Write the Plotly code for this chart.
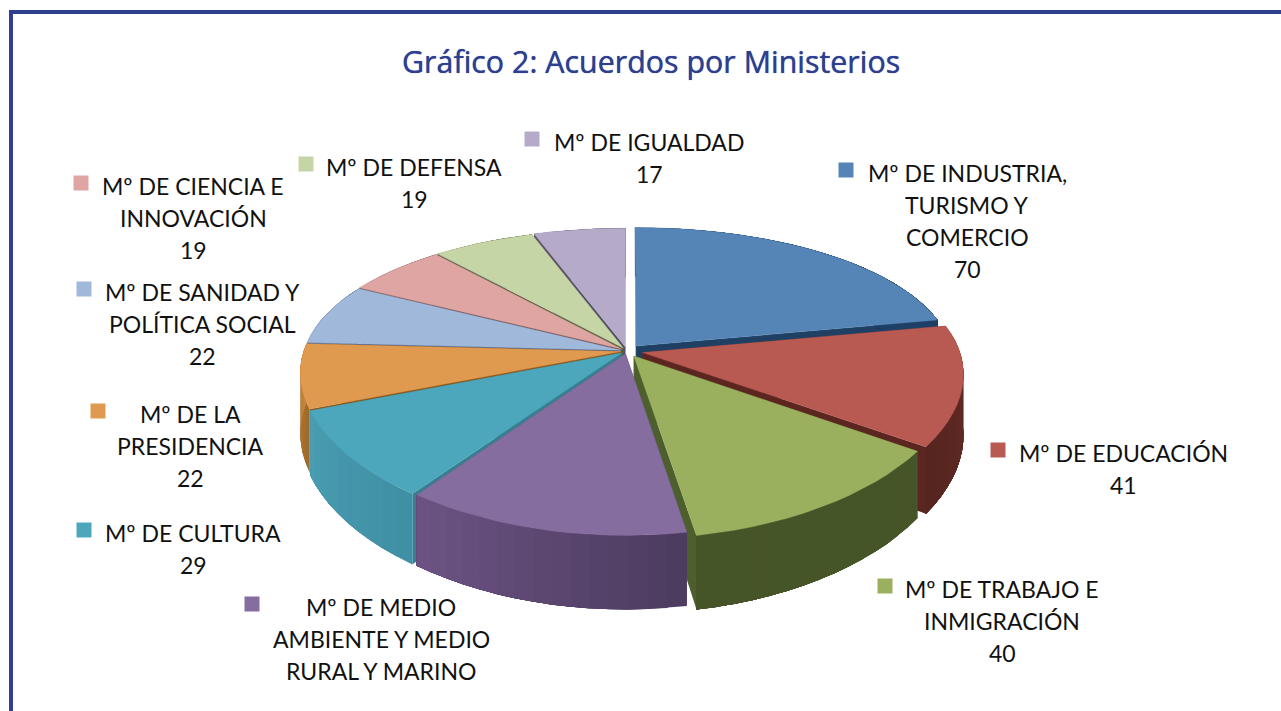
import math
import plotly.graph_objects as go

# ---- data ----
ministerios = ["Mº DE INDUSTRIA, TURISMO Y COMERCIO", "Mº DE EDUCACIÓN", "Mº DE TRABAJO E INMIGRACIÓN",
               "Mº DE MEDIO AMBIENTE Y MEDIO RURAL Y MARINO", "Mº DE CULTURA", "Mº DE LA PRESIDENCIA",
               "Mº DE SANIDAD Y POLÍTICA SOCIAL", "Mº DE CIENCIA E INNOVACIÓN", "Mº DE DEFENSA", "Mº DE IGUALDAD"]
acuerdos = [70, 41, 40, 40, 29, 22, 22, 19, 19, 17]   # Medio Ambiente value is cut off in the source: estimated

# ---- style ----
top_colors = ["#5585b7", "#b95a52", "#9bb05f", "#856da0", "#4ca6bc", "#e09a4f", "#a0b8da", "#dea5a2", "#c6d5a5", "#b6aac9"]
wall_a = ["#1e3f66", "#6a2c26", "#465528", "#6e5485", "#4a9db2", "#c98a42", "#5a6a8a", "#7a5a58", "#566044", "#5a5068"]
wall_b = ["#1e3f66", "#552520", "#465528", "#4c3c60", "#4090a5", "#a06a2a", "#5a6a8a", "#7a5a58", "#566044", "#5a5068"]
radial = ["#1f4063", "#5c2620", "#4d5f2c", "#4d3d60", "#357f90", "#8a5518", "#56607a", "#6e5050", "#55603f", "#55506a"]
explode = [0.045, 0.05, 0.04, 0.02, 0.022, 0.02, 0.02, 0.022, 0.024, 0.028]
label_lines = [["Mº DE INDUSTRIA,", "TURISMO Y", "COMERCIO", "70"], ["Mº DE EDUCACIÓN", "41"],
               ["Mº DE TRABAJO E", "INMIGRACIÓN", "40"], ["Mº DE MEDIO", "AMBIENTE Y MEDIO", "RURAL Y MARINO"],
               ["Mº DE CULTURA", "29"], ["Mº DE LA", "PRESIDENCIA", "22"], ["Mº DE SANIDAD Y", "POLÍTICA SOCIAL", "22"],
               ["Mº DE CIENCIA E", "INNOVACIÓN", "19"], ["Mº DE DEFENSA", "19"], ["Mº DE IGUALDAD", "17"]]
label_x = [967, 1123, 1002, 381, 193, 190, 202, 193, 414, 649]
label_y = [173, 453, 589, 607, 533, 414, 292, 186, 167, 142]
key_x = [846, 998, 885, 252, 84, 98, 84, 81, 306, 532]
key_y = [170, 450, 586, 604, 530, 411, 289, 183, 164, 139]
TITLE = "Gráfico 2: Acuerdos por Ministerios"
NAVY = "#2e3f8f"
CX, CY, RX, RY, KX, KY, DEPTH = 627, 351, 317, 144, 0.14, 0.2, 59


def project(u, v, z=0.0):
    sx, sy = 1 / (1 - KX * v), 1 / (1 - KY * v)
    return CX + RX * u * sx, CY + RY * v * sy + DEPTH * sy * z


def mix(a, b, t):
    ca = [int(a[i:i + 2], 16) for i in (1, 3, 5)]
    cb = [int(b[i:i + 2], 16) for i in (1, 3, 5)]
    return "#%02x%02x%02x" % tuple(round(x + (y - x) * t) for x, y in zip(ca, cb))


fig = go.Figure()


def poly(points, color, width=0.0):
    fig.add_trace(go.Scatter(x=[p[0] for p in points] + [points[0][0]], y=[p[1] for p in points] + [points[0][1]],
                             mode="lines", fill="toself", fillcolor=color, line=dict(color=color, width=width),
                             hoverinfo="skip", showlegend=False))


total = sum(acuerdos)
wedges, cum = [], 0
for i, val in enumerate(acuerdos):
    a0, a1 = cum / total * 2 * math.pi, (cum + val) / total * 2 * math.pi
    cum += val
    mid = (a0 + a1) / 2
    ou, ov = explode[i] * math.sin(mid), -explode[i] * math.cos(mid)
    n = max(3, int((a1 - a0) / math.radians(3)))
    arc = [(ou + math.sin(a0 + (a1 - a0) * j / n), ov - math.cos(a0 + (a1 - a0) * j / n)) for j in range(n + 1)]
    wedges.append(dict(i=i, ou=ou, ov=ov, arc=arc, mv=-math.cos(mid) + ov))

for w in sorted(wedges, key=lambda w: w["mv"]):
    i, ou, ov, arc = w["i"], w["ou"], w["ov"], w["arc"]
    for e in (arc[0], arc[-1]):
        poly([project(ou, ov), project(*e), project(*e, 1), project(ou, ov, 1)], radial[i])
    # outer wall: every band runs to the arc's end and the next one paints over it, so no seams show
    for j in range(len(arc) - 1):
        t = j / (len(arc) - 1)
        t = 1 - t if i >= 3 else t
        rest = arc[j:]
        poly([project(*p) for p in rest] + [project(*p, 1) for p in reversed(rest)], mix(wall_a[i], wall_b[i], t))
for w in wedges:
    poly([project(w["ou"], w["ov"])] + [project(*p) for p in w["arc"]], top_colors[w["i"]], 0.4)

fig.add_trace(go.Scatter(x=key_x, y=key_y, mode="markers", hoverinfo="skip", showlegend=False,
                         marker=dict(symbol="square", size=15, color=top_colors, line=dict(width=0))))

for i, lines in enumerate(label_lines):
    for j, line in enumerate(lines):
        fig.add_annotation(x=label_x[i], y=label_y[i] + 32 * j, text=line, showarrow=False,
                           font=dict(family="Lato", size=23, color="#111111"), xanchor="center", yanchor="middle")
fig.add_annotation(x=651, y=61, text=TITLE, showarrow=False, xanchor="center", yanchor="middle",
                   font=dict(family="Open Sans", size=30.4, weight=500, color=NAVY, shadow="0 0 0.8px " + NAVY))

fig.update_layout(width=1281, height=711, margin=dict(l=0, r=0, t=0, b=0), paper_bgcolor="white", plot_bgcolor="white",
                  xaxis=dict(range=[0, 1281], visible=False, fixedrange=True),
                  yaxis=dict(range=[711, 0], visible=False, fixedrange=True),
                  shapes=[dict(type="line", x0=9, x1=1281, y0=12, y1=12, line=dict(color=NAVY, width=4)),
                          dict(type="line", x0=11, x1=11, y0=10, y1=711, line=dict(color=NAVY, width=4))])
fig.write_html("out.html", config=dict(displayModeBar=False),
               post_script="document.body.style.margin='0';document.body.style.overflow='hidden';")
